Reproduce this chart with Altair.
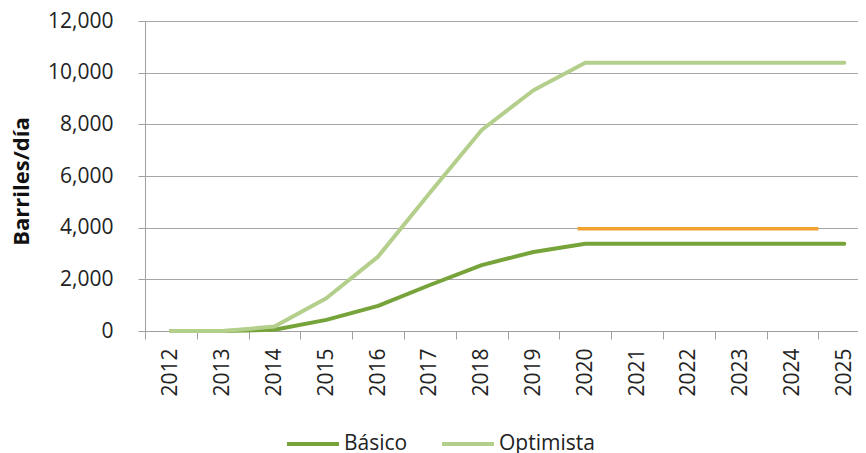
import altair as alt
import pandas as pd

years = list(range(2012, 2026))
basico = [0, 0, 50, 430, 970, 1780, 2550, 3060, 3380, 3380, 3380, 3380, 3380, 3380]
optimista = [0, 0, 170, 1270, 2880, 5350, 7780, 9320, 10380, 10380, 10380, 10380, 10380, 10380]
series_names = ["Básico", "Optimista"]
series_colors = ["#77A33B", "#B4CF8B"]
ref_years = [2019.85, 2024.5]
ref_value = [3960, 3960]
tick_years = [y - 0.5 for y in years]

rows = []
for name, vals in zip(series_names, [basico, optimista]):
    for y, v in zip(years, vals):
        rows.append({"year": y, "value": v, "serie": name})
df = pd.DataFrame(rows)
ref_df = pd.DataFrame({"year": ref_years, "value": ref_value})

FONT = "Open Sans"
xscale = alt.Scale(domain=[2011.5, 2025.264], nice=False, zero=False)
yscale = alt.Scale(domain=[0, 12000], nice=False)

lines = alt.Chart(df).mark_line(strokeWidth=4, strokeCap="round", strokeJoin="round").encode(
    x=alt.X("year:Q", scale=xscale,
            axis=alt.Axis(values=tick_years, labelExpr="format(datum.value + 0.5, 'd')",
                          labelOffset=25.9, labelAngle=-90, labelAlign="right", labelBaseline="middle",
                          labelPadding=9, tickSize=8, labelFlush=False, labelOverlap=False,
                          labelBound=False, grid=False, title=None,
                          labelFont=FONT, labelFontSize=21, labelColor="#222222",
                          domainColor="#A0A0A0", tickColor="#A0A0A0")),
    y=alt.Y("value:Q", scale=yscale,
            axis=alt.Axis(values=list(range(0, 12001, 2000)), format=",d", tickSize=7,
                          labelPadding=25, labelFont=FONT, labelFontSize=21, labelColor="#222222",
                          labelFlush=False, gridColor="#A6A6A6", domainColor="#A0A0A0",
                          tickColor="#A0A0A0", title="Barriles/día", titleFont=FONT,
                          titleFontSize=22, titleFontWeight="bold", titleColor="#111111",
                          titleAngle=-90, titleX=-124, titleY=160, titleAlign="center",
                          titleBaseline="middle")),
    color=alt.Color("serie:N", scale=alt.Scale(domain=series_names, range=series_colors),
                    legend=alt.Legend(title=None, orient="none", direction="horizontal",
                                      legendX=140, legendY=395, symbolType="stroke",
                                      symbolSize=2700, symbolStrokeWidth=4,
                                      labelFont=FONT, labelFontSize=21, labelColor="#222222",
                                      labelOffset=3, columnPadding=26, padding=0)),
)

ref = alt.Chart(ref_df).mark_line(strokeWidth=3.5, color="#F2A230").encode(
    x=alt.X("year:Q", scale=xscale),
    y=alt.Y("value:Q", scale=yscale),
)

chart = alt.layer(lines, ref).properties(
    width=713, height=310,
    autosize=alt.AutoSizeParams(type="none"),
    padding={"left": 137, "top": 13, "right": 0, "bottom": 122},
).configure_view(stroke=None)

chart.save("out.html", embed_options={"renderer": "svg", "actions": False})
